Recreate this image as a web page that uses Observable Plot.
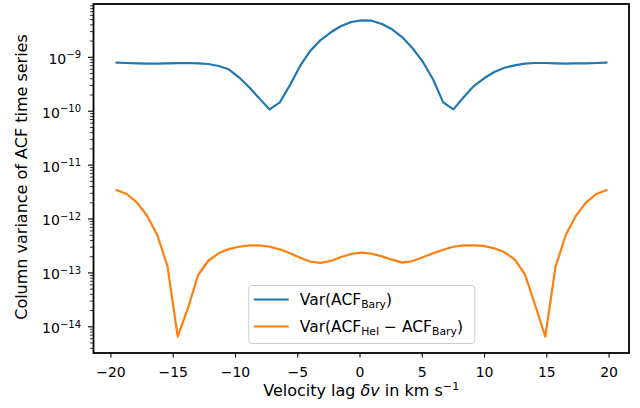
<!DOCTYPE html>
<html>
<head>
<meta charset="utf-8">
<script src="https://cdn.jsdelivr.net/npm/d3@7"></script>
<script src="https://cdn.jsdelivr.net/npm/@observablehq/plot@0.6"></script>
<style>
  html, body { margin: 0; padding: 0; background: #fff; }
  #chart { width: 640px; height: 408px; }
  text { white-space: pre; }
</style>
</head>
<body>
<div id="chart"></div>
<script>
// ---- data ----
const velocity = [-19.56, -18.74, -17.92, -17.10, -16.28, -15.46, -14.64, -13.82, -13.00, -12.18,
  -11.36, -10.54, -9.72, -8.90, -8.08, -7.26, -6.44, -5.62, -4.80, -3.98, -3.16, -2.34, -1.52, -0.70,
  0.12, 0.94, 1.76, 2.58, 3.40, 4.22, 5.04, 5.86, 6.68, 7.50, 8.32, 9.14, 9.96, 10.78, 11.60, 12.42,
  13.24, 14.06, 14.88, 15.70, 16.52, 17.34, 18.16, 18.98, 19.80];

const varBary = [7.94e-10, 7.84e-10, 7.74e-10, 7.61e-10, 7.61e-10, 7.74e-10, 7.77e-10, 7.84e-10, 7.74e-10, 7.51e-10,
  6.90e-10, 5.99e-10, 4.26e-10, 2.78e-10, 1.73e-10, 1.08e-10, 1.46e-10, 3.06e-10, 6.98e-10, 1.33e-9,
  2.09e-9, 2.91e-9, 3.81e-9, 4.52e-9, 4.86e-9, 4.78e-9, 4.15e-9, 3.31e-9, 2.35e-9, 1.47e-9,
  8.29e-10, 3.91e-10, 1.46e-10, 1.08e-10, 1.81e-10, 2.93e-10, 4.08e-10, 5.34e-10, 6.41e-10, 7.10e-10,
  7.61e-10, 7.84e-10, 7.84e-10, 7.74e-10, 7.61e-10, 7.74e-10, 7.74e-10, 7.84e-10, 7.94e-10];

const varHelMinusBary = [3.45e-12, 2.91e-12, 2.04e-12, 1.15e-12, 5.05e-13, 1.34e-13, 6.55e-15, 2.20e-14, 9.14e-14, 1.68e-13,
  2.31e-13, 2.77e-13, 3.06e-13, 3.25e-13, 3.25e-13, 3.06e-13, 2.74e-13, 2.31e-13, 1.91e-13, 1.61e-13,
  1.53e-13, 1.66e-13, 1.97e-13, 2.24e-13, 2.37e-13, 2.27e-13, 2.03e-13, 1.76e-13, 1.55e-13, 1.66e-13,
  1.95e-13, 2.31e-13, 2.69e-13, 3.06e-13, 3.25e-13, 3.25e-13, 3.16e-13, 2.86e-13, 2.41e-13, 1.79e-13,
  9.42e-14, 2.54e-14, 6.55e-15, 1.30e-13, 5.05e-13, 1.15e-12, 2.04e-12, 2.91e-12, 3.45e-12];

const xTicks = [-20, -15, -10, -5, 0, 5, 10, 15, 20];
const yTicks = [1e-14, 1e-13, 1e-12, 1e-11, 1e-10, 1e-9];
const yTickExponents = ["−14", "−13", "−12", "−11", "−10", "−9"];
const minorMultipliers = [2, 3, 4, 5, 6, 7, 8, 9];
const minorDecades = [1e-15, 1e-14, 1e-13, 1e-12, 1e-11, 1e-10, 1e-9];

const seriesColors = ["#1f77b4", "#ff7f0e"];
const legendLabels = [
  [{t: "Var(ACF"}, {t: "Bary", k: "sub"}, {t: ")"}],
  [{t: "Var(ACF"}, {t: "HeI", k: "sub"}, {t: " − ACF"}, {t: "Bary", k: "sub"}, {t: ")"}]
];
const xLabelParts = [{t: "Velocity lag "}, {t: "δv", k: "it"}, {t: " in km s"}, {t: "−1", k: "sup"}];
const yLabelText = "Column variance of ACF time series";

// ---- layout ----
const W = 640, H = 408;
const xDomain = [-21.4, 21.6];
const yDomain = [Math.pow(10, -14.486), Math.pow(10, -8.011)];
const minorTicks = [];
for (const d of minorDecades) for (const m of minorMultipliers) {
  const v = m * d;
  if (v > yDomain[0] && v < yDomain[1]) minorTicks.push(v);
}

const plot = Plot.plot({
  width: W, height: H,
  marginLeft: 93, marginRight: 11.5, marginTop: 3.5, marginBottom: 55.5,
  style: {fontFamily: "DejaVu Sans", fontSize: "14px", color: "black", background: "white", overflow: "visible"},
  x: {domain: xDomain},
  y: {type: "log", domain: yDomain},
  marks: [
    Plot.axisY(minorTicks, {tickSize: 3, strokeWidth: 0.8, tickFormat: () => "", label: null}),
    Plot.axisY(yTicks, {tickSize: 5, tickPadding: 7.5, strokeWidth: 1.1,
      tickFormat: d => yTickExponents[yTicks.indexOf(d)], label: null}),
    Plot.axisX(xTicks, {tickSize: 5, tickPadding: 8.8, strokeWidth: 1.1, label: null}),
    Plot.line(varBary, {x: (d, i) => velocity[i], y: d => d, stroke: seriesColors[0], strokeWidth: 2.2}),
    Plot.line(varHelMinusBary, {x: (d, i) => velocity[i], y: d => d, stroke: seriesColors[1], strokeWidth: 2.2}),
    Plot.frame({stroke: "black", strokeWidth: 1.8})
  ]
});

document.getElementById("chart").appendChild(plot);
const svg = d3.select(plot);

function rich(textSel, parts, small, subDy, supDy) {
  let shift = 0;
  for (const p of parts) {
    const target = p.k === "sub" ? subDy : p.k === "sup" ? supDy : 0;
    const ts = textSel.append("tspan").text(p.t);
    if (target !== shift) ts.attr("dy", target - shift);
    shift = target;
    if (p.k === "sub" || p.k === "sup") ts.attr("font-size", small);
    if (p.k === "it") ts.attr("font-style", "italic");
  }
}

// y tick labels as 10^n with superscript
svg.selectAll('g[aria-label="y-axis tick label"] text').each(function () {
  const exp = this.textContent;
  if (!exp) return;
  const t = d3.select(this);
  t.text("").attr("y", 6.4);
  rich(t, [{t: "10"}, {t: exp, k: "sup"}], 10, 0, -5.4);
});

// axis labels
const fx0 = 93.5, fx1 = 629, fy0 = 4, fy1 = 353;
const xl = svg.append("text").attr("x", (fx0 + fx1) / 2).attr("y", 395.7)
  .attr("text-anchor", "middle").attr("font-size", 16).attr("fill", "black");
rich(xl, xLabelParts, 11.2, 0, -5.7);

svg.append("text").attr("transform", `translate(27,${(fy0 + fy1) / 2 - 1.5}) rotate(-90)`)
  .attr("text-anchor", "middle").attr("font-size", 16).attr("fill", "black").text(yLabelText);

// legend (lower center)
const lw = 226, lh = 58;
const lx = (fx0 + fx1) / 2 - lw / 2 + 0.5, ly = fy1 - 9.5 - lh;
const lg = svg.append("g").attr("text-anchor", "start");
lg.append("rect").attr("x", lx).attr("y", ly).attr("width", lw).attr("height", lh)
  .attr("rx", 3).attr("fill", "white").attr("fill-opacity", 0.8)
  .attr("stroke", "#cccccc").attr("stroke-width", 1);
legendLabels.forEach((parts, i) => {
  const cy = ly + 14 + i * 27;
  lg.append("line").attr("x1", lx + 5).attr("x2", lx + 40).attr("y1", cy).attr("y2", cy)
    .attr("stroke", seriesColors[i]).attr("stroke-width", 2.2);
  const t = lg.append("text").attr("x", lx + 51).attr("y", cy + 5.7)
    .attr("text-anchor", "start").attr("font-size", 15.5).attr("fill", "black");
  rich(t, parts, 10.8, 2.5, -5.5);
});
</script>
</body>
</html>
